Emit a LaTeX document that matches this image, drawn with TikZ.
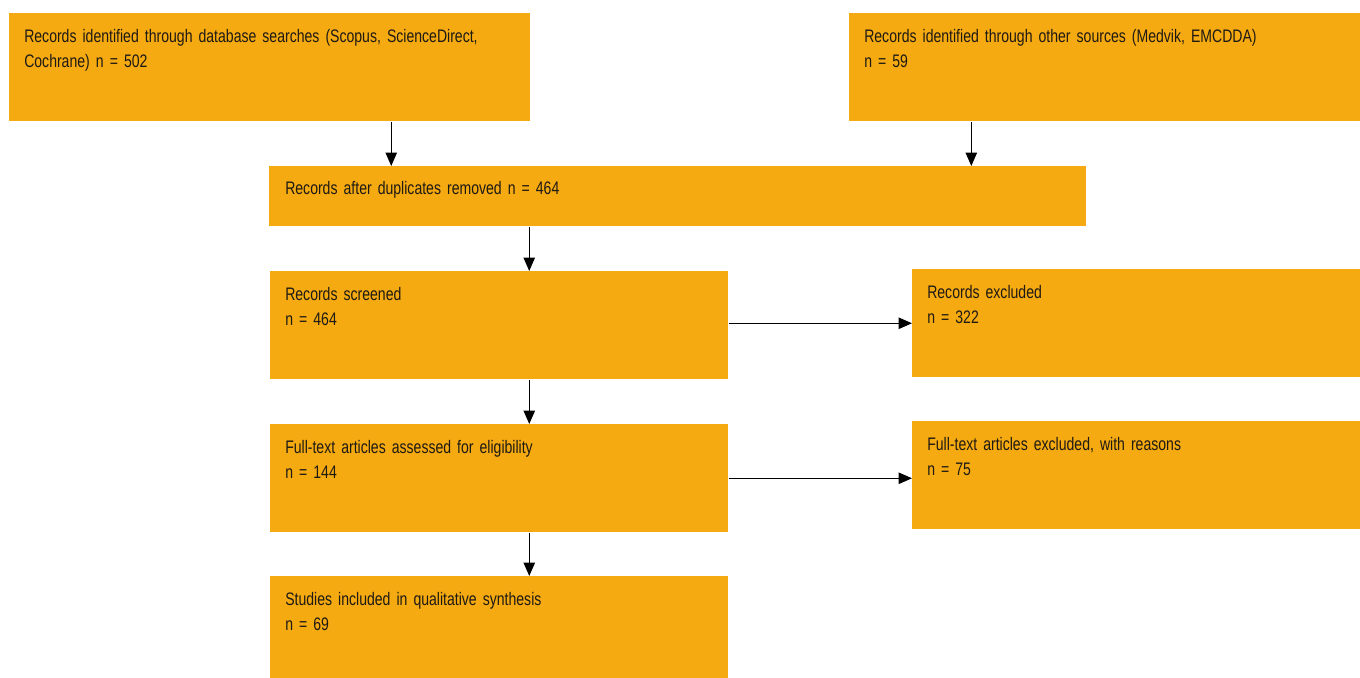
\documentclass[tikz,border=0pt]{standalone}
\usepackage{fontspec}
\setmainfont{Liberation Sans}[FakeStretch=0.775]
\usetikzlibrary{arrows.meta,calc}
\definecolor{boxorange}{RGB}{246,170,18}
\definecolor{txtdark}{RGB}{30,26,20}
\begin{document}
\begin{tikzpicture}[x=0.75pt,y=-0.75pt,
  box/.style={fill=boxorange, draw=none, anchor=north west, inner sep=0pt},
  txt/.style={anchor=base west, inner sep=0pt, align=left, text width=#1, text=txtdark,
    font=\fontsize{13.6}{18.75}\selectfont},
  arr/.style={draw=black, line width=0.9pt, -{Triangle[length=10pt,width=8.5pt]}}]
\useasboundingbox (0,0) rectangle (1360,678);
% boxes
\node[box, minimum width=390.75pt, minimum height=81pt] (b1) at (9,13) {};
\node[box, minimum width=383.25pt, minimum height=81pt] (b2) at (849,13) {};
\node[box, minimum width=612.75pt, minimum height=45pt] (b3) at (269,166) {};
\node[box, minimum width=343.5pt, minimum height=81pt] (b4) at (270,271) {};
\node[box, minimum width=336pt, minimum height=81pt] (b5) at (912,269) {};
\node[box, minimum width=343.5pt, minimum height=81pt] (b6) at (270,424) {};
\node[box, minimum width=336pt, minimum height=81pt] (b7) at (912,421) {};
\node[box, minimum width=343.5pt, minimum height=76.5pt] (b8) at (270,576) {};
% texts
\node[txt=375pt] (t1) at (24,42) {Records identified through database searches (Scopus, ScienceDirect,\\Cochrane) n = 502};
\node[txt=370pt] (t2) at (864,42) {Records identified through other sources (Medvik, EMCDDA)\\n = 59};
\node[txt=500pt] (t3) at (285,194) {Records after duplicates removed n = 464};
\node[txt=320pt] (t4) at (285,300) {Records screened\\n = 464};
\node[txt=320pt] (t5) at (927,298) {Records excluded\\n = 322};
\node[txt=320pt] (t6) at (285,453) {Full-text articles assessed for eligibility\\n = 144};
\node[txt=320pt] (t7) at (927,450) {Full-text articles excluded, with reasons\\n = 75};
\node[txt=320pt] (t8) at (285,605) {Studies included in qualitative synthesis\\n = 69};
% connectors
\draw[arr] ([xshift=91.1pt]b1.south) -- ([xshift=91.1pt]b1.south |- b3.north);
\draw[arr] ([xshift=-100.1pt]b2.south) -- ([xshift=-100.1pt]b2.south |- b3.north);
\draw[arr] ([xshift=-111.4pt]b3.south) -- ([xshift=-111.4pt]b3.south |- b4.north);
\draw[arr] ([xshift=22.5pt]b4.south) -- ([xshift=22.5pt]b4.south |- b6.north);
\draw[arr] ([xshift=22.5pt]b6.south) -- ([xshift=22.5pt]b6.south |- b8.north);
\draw[arr] (b5.west -| b4.east) -- (b5.west);
\draw[arr] (b6.east) -- (b6.east -| b7.west);
\end{tikzpicture}
\end{document}
